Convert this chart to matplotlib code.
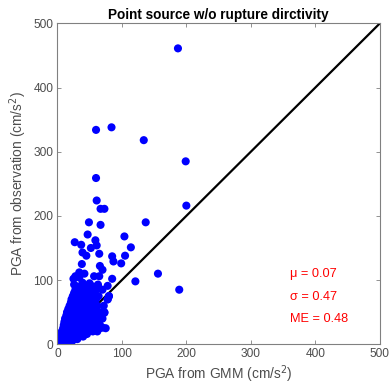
import numpy as np
import matplotlib.pyplot as plt

plt.rcParams['font.family'] = ['Liberation Sans', 'DejaVu Sans']

# outlying points (GMM, observation)
outlier_x = [187, 60, 84, 134, 199, 60, 61, 67, 73, 200, 49, 137, 67, 47, 104,
             59, 27, 37, 61, 114, 52, 39, 45, 65, 105, 85, 87, 99, 38, 66, 70,
             34, 42, 28, 25, 34, 57, 65, 156, 85, 121, 26, 39, 50, 63, 78, 189,
             80, 78, 73, 70]
outlier_y = [461, 334, 338, 318, 285, 259, 224, 211, 211, 216, 190, 190, 186,
             171, 168, 162, 159, 155, 154, 151, 150, 143, 138, 141, 138, 137,
             129, 126, 125, 122, 116, 112, 110, 106, 102, 104, 106, 106, 110,
             102, 98, 93, 96, 95, 93, 91, 85, 75, 70, 49, 26]

# dense cluster near the origin, rows of (observation level, GMM values)
cluster_rows = {
    2: [2, 5, 8, 12, 16],
    5: [3, 7, 11, 15, 19, 23],
    8: [4, 9, 14, 20, 26, 31],
    12: [5, 10, 16, 22, 28, 34, 40],
    16: [6, 12, 18, 24, 30, 38, 46],
    20: [7, 13, 19, 25, 32, 40, 48, 55, 62],
    25: [9, 15, 21, 27, 34, 42, 50, 58, 66, 75],
    30: [10, 16, 23, 30, 37, 45, 54, 60, 66],
    35: [11, 18, 25, 32, 40, 48, 57, 64],
    40: [12, 19, 27, 35, 43, 52, 60, 70],
    45: [14, 21, 29, 37, 46, 55, 65],
    50: [15, 23, 31, 40, 49, 58, 68, 73],
    55: [17, 25, 33, 42, 51, 60],
    60: [19, 27, 36, 45, 54, 62, 72],
    65: [21, 29, 38, 47, 56],
    70: [22, 31, 40, 50, 60, 78],
    75: [24, 34, 43, 53, 64, 80],
    80: [26, 36, 46, 56],
    85: [28, 38, 48, 60, 70],
    90: [30, 42, 55, 63],
}

stats_text = ["\u03bc = 0.07", "\u03c3 = 0.47", "ME = 0.48"]
stats_y = [110, 74, 40]

gmm = list(outlier_x)
obs = list(outlier_y)
for level, xs in cluster_rows.items():
    gmm += xs
    obs += [level] * len(xs)

fig = plt.figure(figsize=(3.90, 3.89), dpi=100)
ax = fig.add_axes([0.147, 0.115, 0.827, 0.825])

ax.plot([0, 500], [0, 500], color='black', lw=1.6, zorder=1)
ax.scatter(gmm, obs, s=34, color='#0000ff', edgecolors='none', zorder=2)

for t, y in zip(stats_text, stats_y):
    ax.text(360, y, t, color='#ff0000', fontsize=9.2, va='center', ha='left')

ax.set_xlim(0, 500)
ax.set_ylim(0, 500)
ax.set_xticks(np.arange(0, 501, 100))
ax.set_yticks(np.arange(0, 501, 100))
ax.tick_params(direction='in', top=True, right=True, length=3, width=0.6,
               colors='#808080', labelcolor='#4d4d4d', labelsize=8.6, pad=3)
for sp in ax.spines.values():
    sp.set_color('#808080')
    sp.set_linewidth(0.8)

ax.set_xlabel('PGA from GMM (cm/s$^2$)', fontsize=9.9, color='#4d4d4d', labelpad=2)
ax.set_ylabel('PGA from observation (cm/s$^2$)', fontsize=9.9, color='#4d4d4d', labelpad=3)
ax.set_title('Point source w/o rupture dirctivity', fontsize=9.8, fontweight='bold', pad=3)

fig.savefig('out.png', dpi=100)
